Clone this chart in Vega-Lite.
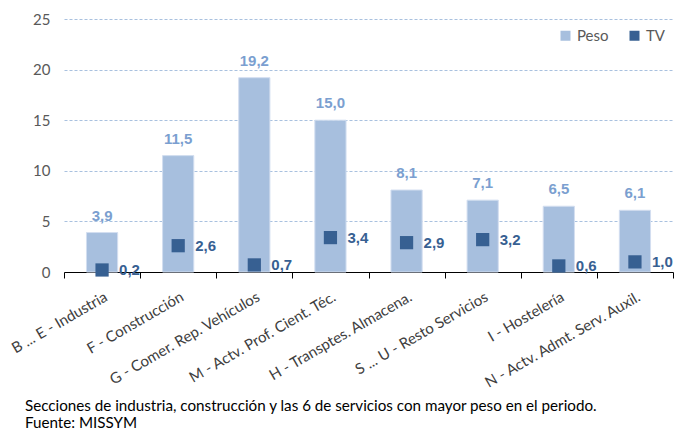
{
  "$schema": "https://vega.github.io/schema/vega-lite/v6.json",
  "width": 609,
  "height": 253,
  "autosize": "none",
  "padding": {"left": 64, "top": 19, "right": 2, "bottom": 160},
  "config": {
    "view": {"stroke": null},
    "locale": {"number": {"decimal": ",", "thousands": ".", "grouping": [3], "currency": ["", " €"]}},
    "axisY": {"labelFont": "Lato", "labelFontSize": 15, "labelColor": "#595959", "domain": false, "ticks": false, "labelPadding": 14, "gridColor": "#a9c1df", "gridDash": [3, 2], "gridWidth": 1, "values": [0, 5, 10, 15, 20, 25]},
    "axisX": {"labelFont": "Lato", "labelFontSize": 15, "labelColor": "#404040", "labelAngle": -30, "labelAlign": "right", "labelBaseline": "top", "labelPadding": 11, "labelLimit": 0, "domainColor": "#000000", "domainWidth": 1.2, "tickColor": "#000000", "tickSize": 6, "tickBand": "extent", "grid": false}
  },
  "title": {
    "text": ["Secciones de industria, construcción y las 6 de servicios con mayor peso en el periodo.", "Fuente:  MISSYM"],
    "orient": "bottom",
    "anchor": "start",
    "frame": "group",
    "font": "Lato",
    "fontSize": 15.2,
    "fontWeight": "normal",
    "color": "#000000",
    "dx": -39,
    "offset": 8,
    "lineHeight": 17
  },
  "data": {
    "values": [
      {"sec": "B ... E - Industria", "Peso": 3.9, "TV": 0.2},
      {"sec": "F - Construcción", "Peso": 11.5, "TV": 2.6},
      {"sec": "G - Comer. Rep. Vehículos", "Peso": 19.2, "TV": 0.7},
      {"sec": "M - Actv. Prof. Cient. Téc.", "Peso": 15.0, "TV": 3.4},
      {"sec": "H - Transptes. Almacena.", "Peso": 8.1, "TV": 2.9},
      {"sec": "S ... U - Resto Servicios", "Peso": 7.1, "TV": 3.2},
      {"sec": "I - Hostelería", "Peso": 6.5, "TV": 0.6},
      {"sec": "N - Actv. Admt. Serv. Auxil.", "Peso": 6.1, "TV": 1.0}
    ]
  },
  "encoding": {
    "x": {"field": "sec", "type": "nominal", "sort": null, "title": null, "scale": {"paddingInner": 0, "paddingOuter": 0}}
  },
  "layer": [
    {
      "mark": {"type": "bar", "width": {"band": 0.41}, "stroke": "#d3def0", "strokeWidth": 1},
      "encoding": {
        "y": {"field": "Peso", "type": "quantitative", "title": null, "scale": {"domain": [0, 25], "nice": false}},
        "color": {
          "datum": "Peso", "type": "nominal",
          "scale": {"domain": ["Peso", "TV"], "range": ["#a7bfde", "#376092"]},
          "legend": {"orient": "none", "legendX": 494, "legendY": 9, "direction": "horizontal", "title": null, "symbolType": "square", "symbolSize": 100, "symbolStrokeWidth": 0, "labelFont": "Lato", "labelFontSize": 15, "labelColor": "#595959", "columnPadding": 18, "labelOffset": 4}
        }
      }
    },
    {
      "mark": {"type": "text", "font": "Liberation Sans", "fontSize": 15, "fontWeight": "bold", "color": "#7b9fd0", "baseline": "middle", "dy": -17},
      "encoding": {
        "y": {"field": "Peso", "type": "quantitative", "title": null},
        "text": {"field": "Peso", "type": "quantitative", "format": ".1f"}
      }
    },
    {
      "mark": {"type": "point", "shape": "square", "filled": true, "size": 175, "opacity": 1},
      "encoding": {
        "y": {"field": "TV", "type": "quantitative", "title": null},
        "color": {"datum": "TV", "type": "nominal"}
      }
    },
    {
      "mark": {"type": "text", "font": "Liberation Sans", "fontSize": 15, "fontWeight": "bold", "color": "#376092", "align": "left", "baseline": "middle", "dx": 17},
      "encoding": {
        "y": {"field": "TV", "type": "quantitative", "title": null},
        "text": {"field": "TV", "type": "quantitative", "format": ".1f"}
      }
    }
  ]
}
